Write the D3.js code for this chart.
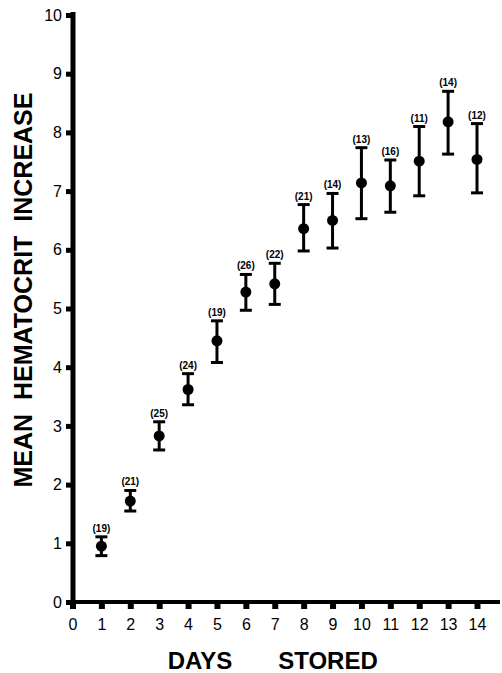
<!DOCTYPE html>
<html>
<head>
<meta charset="utf-8">
<script src="https://cdn.jsdelivr.net/npm/d3@7"></script>
<style>
  body { margin: 0; background: #fff; }
  svg { display: block; font-family: "Liberation Sans", Arial, sans-serif; }
</style>
</head>
<body>
<svg id="chart" width="502" height="673"></svg>
<script>
// Mean hematocrit increase by days stored, with error bars and sample sizes
const days = [1, 2, 3, 4, 5, 6, 7, 8, 9, 10, 11, 12, 13, 14];
const means = [0.95, 1.72, 2.83, 3.62, 4.45, 5.28, 5.42, 6.36, 6.50, 7.14, 7.09, 7.51, 8.18, 7.54];
const upper = [1.11, 1.90, 3.07, 3.89, 4.79, 5.58, 5.77, 6.77, 6.96, 7.74, 7.53, 8.10, 8.70, 8.15];
const lower = [0.79, 1.55, 2.59, 3.36, 4.08, 4.97, 5.07, 5.98, 6.03, 6.53, 6.64, 6.92, 7.63, 6.97];
const counts = ['(19)', '(21)', '(25)', '(24)', '(19)', '(26)', '(22)', '(21)', '(14)', '(13)', '(16)', '(11)', '(14)', '(12)'];
const xTicks = d3.range(0, 15);
const yTicks = d3.range(0, 11);

const svg = d3.select('#chart');

// Scales
const x = d3.scaleLinear().domain([0, 14]).range([72.5, 477]);
const y = d3.scaleLinear().domain([0, 10]).range([602, 15]);

// Y axis: thick line with square ticks on the left
const yAxis = svg.append('g')
  .attr('transform', 'translate(73,0)')
  .call(d3.axisLeft(y).tickValues(yTicks).tickSize(7).tickPadding(4).tickSizeOuter(0));
yAxis.select('.domain').remove();
yAxis.selectAll('.tick line').attr('stroke', '#000').attr('stroke-width', 5);
yAxis.selectAll('.tick text')
  .attr('font-size', 16)
  .attr('fill', '#000');

// X axis: ticks hang below
const xAxis = svg.append('g')
  .attr('transform', 'translate(0,602)')
  .call(d3.axisBottom(x).tickValues(xTicks).tickSize(7).tickPadding(10).tickSizeOuter(0));
xAxis.select('.domain').remove();
xAxis.selectAll('.tick line').attr('stroke', '#000').attr('stroke-width', 6);
xAxis.selectAll('.tick text')
  .attr('font-size', 16)
  .attr('fill', '#000');

// Axis lines drawn last so they sit on top
svg.append('line')
  .attr('x1', 73).attr('x2', 73)
  .attr('y1', y(10) - 3).attr('y2', y(0) + 3)
  .attr('stroke', '#000').attr('stroke-width', 5);
svg.append('line')
  .attr('x1', 71).attr('x2', 500)
  .attr('y1', y(0)).attr('y2', y(0))
  .attr('stroke', '#000').attr('stroke-width', 4);

// Error bars
const pts = days.map((d, i) => ({day: d, mean: means[i], hi: upper[i], lo: lower[i], n: counts[i]}));
const g = svg.append('g');
const bar = g.selectAll('g.bar').data(pts).join('g').attr('class', 'bar');

bar.append('line')
  .attr('x1', d => x(d.day)).attr('x2', d => x(d.day))
  .attr('y1', d => y(d.hi)).attr('y2', d => y(d.lo))
  .attr('stroke', '#000').attr('stroke-width', 3);
bar.append('line')
  .attr('x1', d => x(d.day) - 6).attr('x2', d => x(d.day) + 6)
  .attr('y1', d => y(d.hi)).attr('y2', d => y(d.hi))
  .attr('stroke', '#000').attr('stroke-width', 3);
bar.append('line')
  .attr('x1', d => x(d.day) - 6).attr('x2', d => x(d.day) + 6)
  .attr('y1', d => y(d.lo)).attr('y2', d => y(d.lo))
  .attr('stroke', '#000').attr('stroke-width', 3);
bar.append('circle')
  .attr('cx', d => x(d.day)).attr('cy', d => y(d.mean))
  .attr('r', 5.5).attr('fill', '#000');
bar.append('text')
  .attr('x', d => x(d.day)).attr('y', d => y(d.hi) - 5)
  .attr('text-anchor', 'middle')
  .attr('font-size', 10).attr('font-weight', 'bold')
  .text(d => d.n);

// Axis titles
svg.append('text')
  .attr('transform', 'translate(32,290) rotate(-90)')
  .attr('text-anchor', 'middle')
  .attr('font-size', 25).attr('font-weight', 'bold')
  .attr('xml:space', 'preserve')
  .style('white-space', 'pre')
  .text('MEAN  HEMATOCRIT  INCREASE');
svg.append('text')
  .attr('x', 200).attr('y', 669)
  .attr('text-anchor', 'middle')
  .attr('font-size', 24).attr('font-weight', 'bold')
  .text('DAYS');
svg.append('text')
  .attr('x', 328).attr('y', 669)
  .attr('text-anchor', 'middle')
  .attr('font-size', 24).attr('font-weight', 'bold')
  .text('STORED');
</script>
</body>
</html>
